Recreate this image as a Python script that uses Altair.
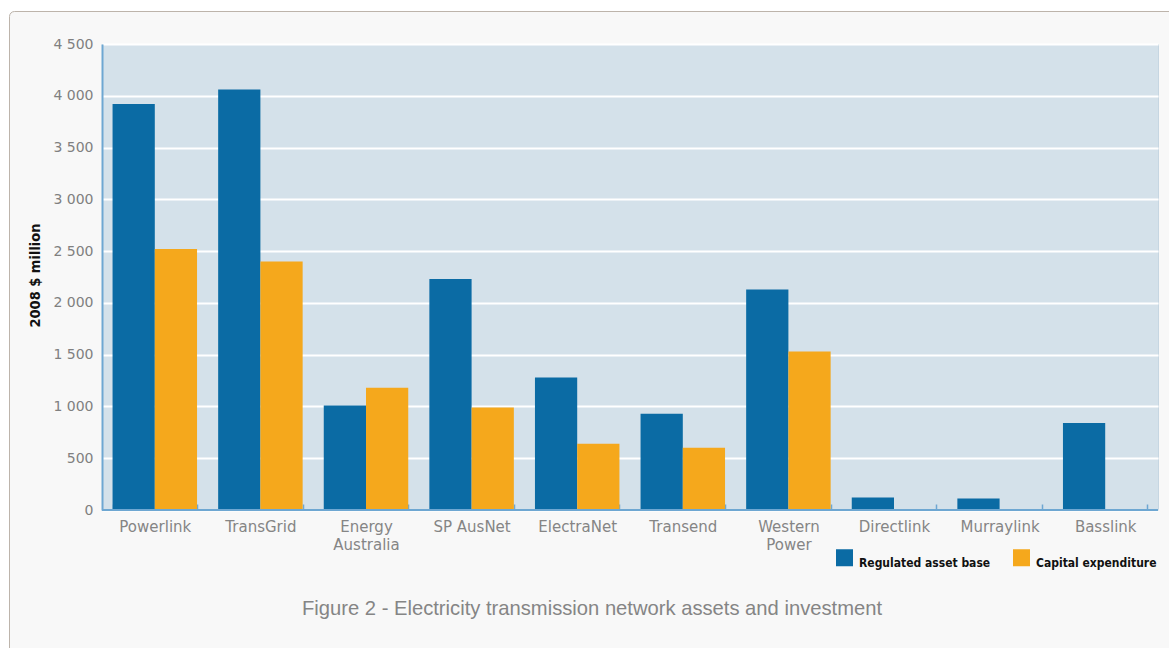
import altair as alt
import pandas as pd

companies = ["Powerlink", "TransGrid", "Energy Australia", "SP AusNet", "ElectraNet",
             "Transend", "Western Power", "Directlink", "Murraylink", "Basslink"]
regulated_asset_base = [3920, 4060, 1010, 2230, 1280, 930, 2130, 120, 110, 840]
capital_expenditure = [2520, 2400, 1180, 990, 640, 600, 1530, 0, 0, 0]
series_names = ["Regulated asset base", "Capital expenditure"]
series_colors = ["#0b6ba4", "#f5a81c"]
y_ticks = [0, 500, 1000, 1500, 2000, 2500, 3000, 3500, 4000, 4500]
y_title = "2008 $ million"
caption = "Figure 2 - Electricity transmission network assets and investment"

rows = []
for c, a, b in zip(companies, regulated_asset_base, capital_expenditure):
    rows.append({"company": c, "series": series_names[0], "value": a})
    rows.append({"company": c, "series": series_names[1], "value": b})
df = pd.DataFrame(rows)

LABEL_FONT = "DejaVu Sans"
NARROW = "Liberation Sans Narrow, DejaVu Sans Condensed, sans-serif"
AXIS_BLUE = "#6ea7d2"

bars = alt.Chart(df).mark_bar().encode(
    x=alt.X("company:N", sort=companies,
            scale=alt.Scale(paddingInner=0.2, paddingOuter=0.1),
            axis=alt.Axis(title=None, labelAngle=0, domain=False, offset=-6,
                          tickBand="extent", tickSize=6, tickColor=AXIS_BLUE, tickWidth=1.5,
                          labelPadding=9, labelColor="#858585", labelFont=LABEL_FONT,
                          labelFontSize=15, labelLineHeight=18, labelBaseline="top",
                          labelExpr="(datum.label == 'Energy Australia' || datum.label == 'Western Power') ? split(datum.label, ' ') : datum.label")),
    xOffset=alt.XOffset("series:N", sort=series_names),
    y=alt.Y("value:Q", scale=alt.Scale(domain=[0, 4500], nice=False),
            axis=alt.Axis(values=y_ticks, title=y_title, ticks=False,
                          domainColor=AXIS_BLUE, domainWidth=2,
                          gridColor="#ffffff", gridWidth=2,
                          labelColor="#808080", labelFont=LABEL_FONT, labelFontSize=14,
                          labelPadding=9,
                          labelExpr="replace(format(datum.value, ','), ',', ' ')",
                          titleFont=NARROW, titleFontSize=14.5, titleFontWeight="bold",
                          titleColor="#111111", titleAngle=-90, titleX=-67, titleY=231,
                          titleAlign="center", titleBaseline="middle")),
    color=alt.Color("series:N", sort=series_names,
                    scale=alt.Scale(domain=series_names, range=series_colors),
                    legend=alt.Legend(title=None, orient="none", legendX=734, legendY=505,
                                      direction="horizontal", symbolType="square",
                                      symbolSize=289, symbolStrokeWidth=0,
                                      labelFont=NARROW, labelFontSize=12,
                                      labelFontWeight="bold", labelColor="#111111",
                                      labelBaseline="top",
                                      labelOffset=6, columnPadding=22)),
)

baseline = alt.Chart(pd.DataFrame({"v": [0]})).mark_rule(color=AXIS_BLUE, strokeWidth=2).encode(
    y=alt.datum(0)
)

frame_data = pd.DataFrame({"k": [0]})
white_margin = alt.Chart(frame_data).mark_rect(
    fill="#ffffff", fillOpacity=0, stroke="#ffffff", strokeWidth=20, cornerRadius=15
).encode(x=alt.value(-103), x2=alt.value(1100), y=alt.value(-43), y2=alt.value(640))
frame = alt.Chart(frame_data).mark_rect(
    fill="#ffffff", fillOpacity=0, stroke="#bdb4ab", strokeWidth=1, cornerRadius=5
).encode(x=alt.value(-92.5), x2=alt.value(1090), y=alt.value(-32.5), y2=alt.value(630))

caption_text = alt.Chart(pd.DataFrame({"t": [caption]})).mark_text(
    font="Liberation Sans", fontSize=20.2, color="#858585", align="center", baseline="middle"
).encode(text="t:N", x=alt.value(490), y=alt.value(565))

chart = alt.layer(white_margin, frame, bars, baseline, caption_text).properties(
    width=1056, height=466,
    autosize="none",
    padding={"left": 102, "top": 44, "right": 11, "bottom": 138},
    background="#f8f8f8",
).configure_view(fill="#d4e1ea", stroke="#c6d6e2")

chart.save("out.html", embed_options={"renderer": "svg", "actions": False})
